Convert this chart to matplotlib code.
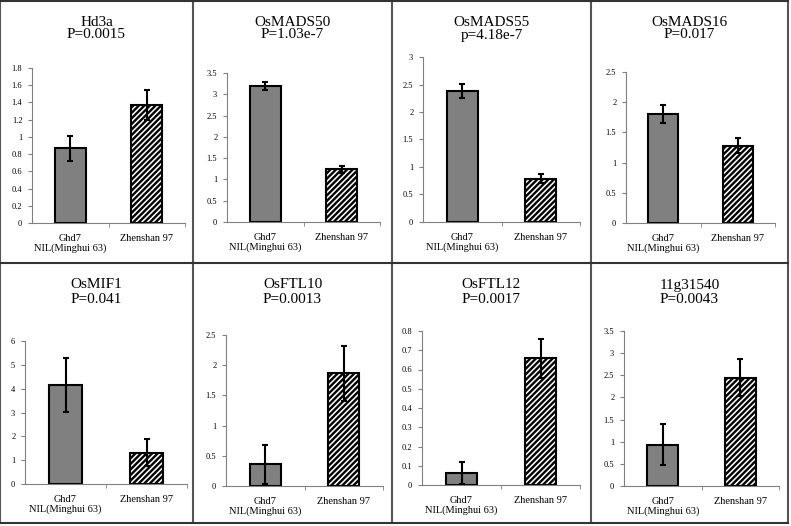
import numpy as np
import matplotlib
matplotlib.use('Agg')
import matplotlib.pyplot as plt
from matplotlib.ticker import FuncFormatter, FixedLocator

plt.rcParams['font.family'] = ['Liberation Serif', 'DejaVu Serif']
plt.rcParams['hatch.linewidth'] = 1.7

# data
genes = ['Hd3a', 'OsMADS50', 'OsMADS55', 'OsMADS16',
         'OsMIF1', 'OsFTL10', 'OsFTL12', '11g31540']
pvalues = ['P=0.0015', 'P=1.03e-7', 'p=4.18e-7', 'P=0.017',
           'P=0.041', 'P=0.0013', 'P=0.0017', 'P=0.0043']
categories = ['Ghd7\nNIL(Minghui 63)', 'Zhenshan 97']
nil_mean = [0.87, 3.20, 2.38, 1.80, 4.15, 0.36, 0.064, 0.935]
nil_err = [0.145, 0.10, 0.13, 0.15, 1.12, 0.32, 0.057, 0.46]
zs_mean = [1.37, 1.24, 0.785, 1.28, 1.31, 1.865, 0.658, 2.45]
zs_err = [0.17, 0.085, 0.08, 0.12, 0.57, 0.45, 0.10, 0.41]
ymax = [1.8, 3.5, 3.0, 2.5, 6, 2.5, 0.8, 3.5]
ystep = [0.2, 0.5, 0.5, 0.5, 1, 0.5, 0.1, 0.5]

W, H = 791, 526
fig = plt.figure(figsize=(W / 100, H / 100), dpi=100)

# axes boxes in pixels: left, y of zero, right, y of top
boxes = [(32, 223, 185, 68), (227, 222, 380, 73), (423, 222, 580, 57), (626, 223, 775, 72),
         (25, 484, 187, 341), (226, 486, 383, 335), (422, 485, 580, 331), (624, 486, 779, 331)]
panel_x = [0, 193, 392, 591, 788]
panel_y = [1, 263, 523]

def fx(px):
    return px / W

def fy(py):
    return 1 - py / H

def fmt(v, p):
    return ('%.2f' % v).rstrip('0').rstrip('.')

for i in range(8):
    l, b, r, t = boxes[i]
    ax = fig.add_axes([fx(l), fy(b), fx(r) - fx(l), fy(t) - fy(b)])
    ax.bar([0], [nil_mean[i]], width=0.4, color='#808080', edgecolor='black', linewidth=1.5, zorder=2)
    ax.bar([1], [zs_mean[i]], width=0.4, color='white', edgecolor='black', linewidth=1.5,
           hatch='//////', zorder=2)
    ax.errorbar([0, 1], [nil_mean[i], zs_mean[i]], yerr=[nil_err[i], zs_err[i]],
                fmt='none', ecolor='black', elinewidth=1.5, capsize=2, capthick=1.5, zorder=3)
    ax.set_xlim(-0.5, 1.5)
    ax.set_ylim(0, ymax[i])
    ax.set_yticks(np.arange(0, ymax[i] + ystep[i] / 2, ystep[i]))
    ax.yaxis.set_major_formatter(FuncFormatter(fmt))
    ax.set_xticks([0, 1])
    ax.set_xticklabels(categories, fontsize=7.5, linespacing=1.05, va='top')
    ax.xaxis.set_minor_locator(FixedLocator([0.5, 1.5]))
    ax.tick_params(axis='x', which='major', length=0, pad=8)
    ax.tick_params(axis='x', which='minor', length=3, color='#808080', direction='out')
    ax.tick_params(axis='y', length=3, color='#808080', labelsize=6, pad=4)
    for s in ['top', 'right']:
        ax.spines[s].set_visible(False)
    for s in ['left', 'bottom']:
        ax.spines[s].set_color('#808080')
        ax.spines[s].set_linewidth(0.8)

    # titles centred over each framed panel
    col = i % 4
    row = i // 4
    cx = (panel_x[col] + panel_x[col + 1]) / 2
    ty = 22 if row == 0 else 285
    gap = 13 if row == 0 else 14.5
    fig.text(fx(cx), fy(ty), genes[i], ha='center', va='center', fontsize=11)
    fig.text(fx(cx), fy(ty + gap), pvalues[i], ha='center', va='center', fontsize=11)

# panel frames
for x in panel_x:
    fig.add_artist(plt.Line2D([fx(x), fx(x)], [fy(panel_y[0]), fy(panel_y[-1])],
                              color='#555555', linewidth=1.5))
for y in panel_y:
    fig.add_artist(plt.Line2D([fx(panel_x[0]), fx(panel_x[-1])], [fy(y), fy(y)],
                              color='#333333', linewidth=1.5))

fig.savefig('out.png', dpi=100)
